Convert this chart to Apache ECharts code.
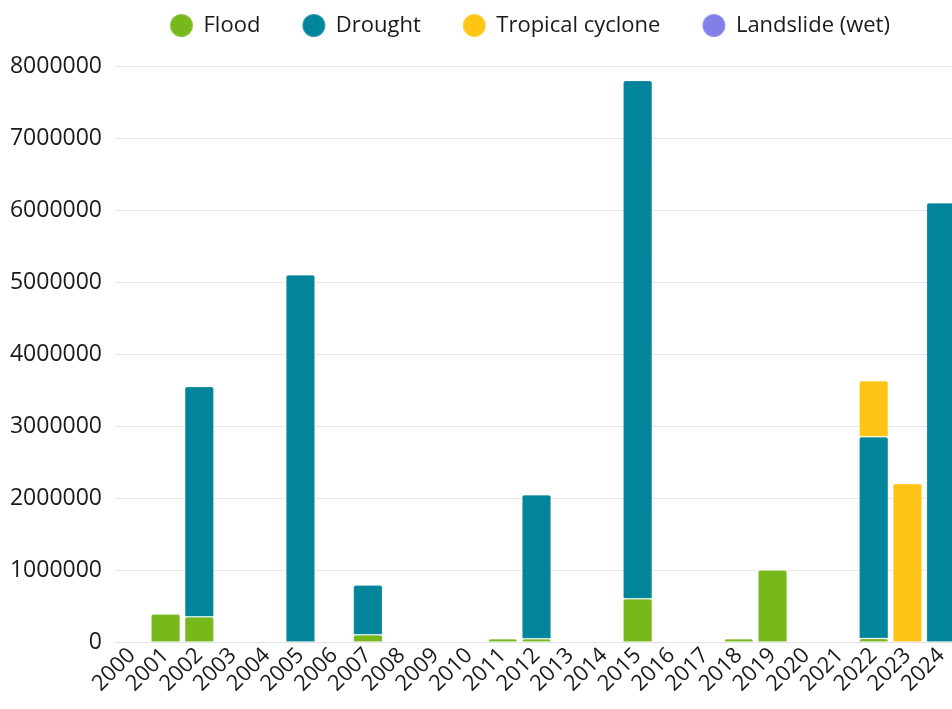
<!DOCTYPE html>
<html>
<head>
<meta charset="utf-8">
<script src="https://cdn.jsdelivr.net/npm/echarts@6/dist/echarts.min.js"></script>
<style>
html,body{margin:0;padding:0;overflow:hidden;background:#fff;}
#chart{width:970px;height:709px;}
</style>
</head>
<body>
<div id="chart"></div>
<script>
const years = ['2000','2001','2002','2003','2004','2005','2006','2007','2008','2009','2010','2011','2012','2013','2014','2015','2016','2017','2018','2019','2020','2021','2022','2023','2024'];
const flood = [0,390000,350000,0,0,0,0,100000,0,0,0,45000,45000,0,0,600000,0,0,45000,1000000,0,0,50000,0,0];
const drought = [0,0,3200000,0,0,5100000,0,690000,0,0,0,0,2000000,0,0,7200000,0,0,0,0,0,0,2800000,0,6100000];
const cyclone = [0,0,0,0,0,0,0,0,0,0,0,0,0,0,0,0,0,0,0,0,0,0,780000,2200000,0];
const landslide = [0,0,0,0,0,0,0,0,0,0,0,0,0,0,0,0,0,0,0,0,0,0,0,0,0];
const yTicks = {min:0, max:8000000, interval:1000000};

const FONT = 'Open Sans';
const chart = echarts.init(document.getElementById('chart'));
function s(name, data, color){
  return {
    name, type:'bar', stack:'total',
    data: data.map(v => v === 0 ? '-' : v),
    barCategoryGap:'13%',
    itemStyle:{color, borderColor:'rgba(255,255,255,0.2)', borderWidth:1, borderRadius:[2,2,0,0]},
    emphasis:{disabled:true}
  };
}
chart.setOption({
  animation:false,
  textStyle:{fontFamily:FONT},
  legend:{
    left:164, top:8, icon:'circle', itemWidth:34, itemHeight:23, itemGap:41,
    textStyle:{fontSize:22, color:'#1a1a1a', fontFamily:FONT}
  },
  grid:{left:115, right:12, top:66, bottom:67},
  xAxis:{
    type:'category', data:years,
    axisLine:{lineStyle:{color:'#e2e2e2'}},
    axisTick:{show:false},
    axisLabel:{rotate:45, fontSize:22, color:'#1a1a1a', interval:0, margin:10, fontFamily:FONT}
  },
  yAxis:{
    type:'value', min:yTicks.min, max:yTicks.max, interval:yTicks.interval,
    splitLine:{lineStyle:{color:'#e6e6e6'}},
    axisLabel:{fontSize:23, color:'#1a1a1a', margin:13, fontFamily:FONT, formatter: v => String(v)}
  },
  series:[
    s('Flood', flood, '#77b81b'),
    s('Drought', drought, '#02849a'),
    s('Tropical cyclone', cyclone, '#fec516'),
    s('Landslide (wet)', landslide, '#8080e8')
  ]
});
</script>
</body>
</html>
